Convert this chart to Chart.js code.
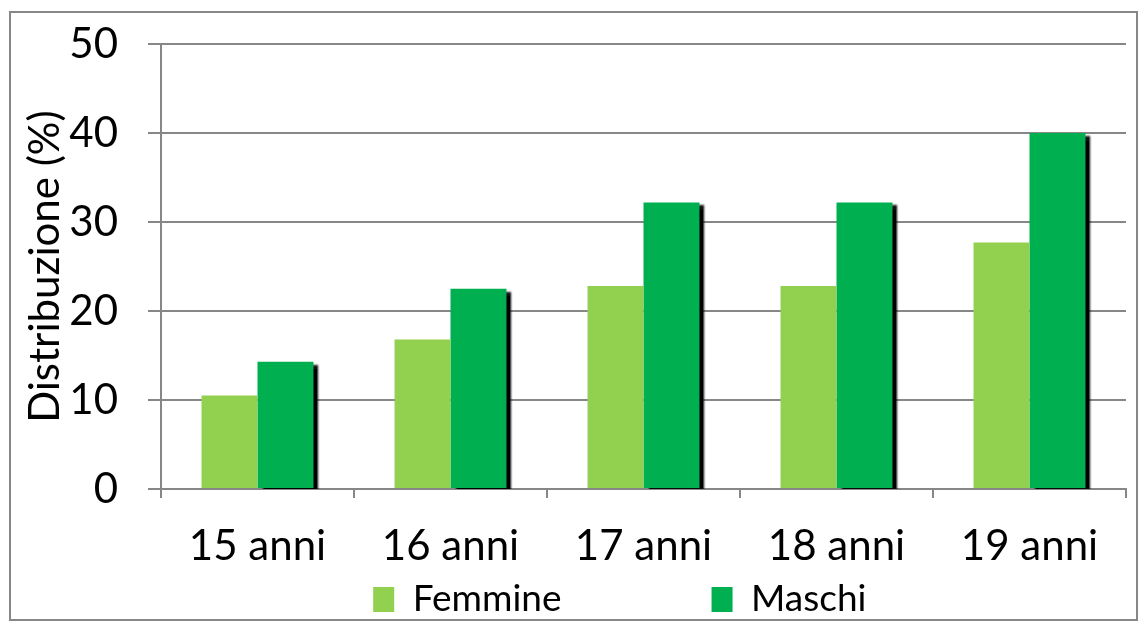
<!DOCTYPE html>
<html>
<head>
<meta charset="utf-8">
<script src="https://cdn.jsdelivr.net/npm/chart.js@4.4.0/dist/chart.umd.min.js"></script>
<style>
  html, body { margin: 0; padding: 0; background: #fff; }
  #wrap { width: 1146px; height: 628px; }
</style>
</head>
<body>
<div id="wrap"><canvas id="myChart" width="1146" height="628"></canvas></div>
<script>
const categories = ["15 anni", "16 anni", "17 anni", "18 anni", "19 anni"];
const femmine = [10.5, 16.8, 22.8, 22.8, 27.7];
const maschi = [14.3, 22.5, 32.2, 32.2, 40.0];
const yTicks = [0, 10, 20, 30, 40, 50];

const FONT = "Lato, 'Open Sans', sans-serif";
const GREY = "#878787";

// outer grey frame around the whole chart
const framePlugin = {
  id: "frame",
  afterDraw(chart) {
    const ctx = chart.ctx;
    ctx.save();
    ctx.strokeStyle = GREY;
    ctx.lineWidth = 2;
    ctx.strokeRect(10, 12, chart.width - 19, chart.height - 20);
    ctx.restore();
  }
};

// black drop shadow on the Maschi bars only
const shadowPlugin = {
  id: "barShadow",
  beforeDatasetDraw(chart, args) {
    if (args.index !== 1) return;
    const ctx = chart.ctx;
    ctx.save();
    ctx.shadowColor = "rgba(0,0,0,1)";
    ctx.shadowOffsetX = 5;
    ctx.shadowOffsetY = 3;
    ctx.shadowBlur = 2;
  },
  afterDatasetDraw(chart, args) {
    if (args.index !== 1) return;
    chart.ctx.restore();
  }
};

const data = {
  labels: categories,
  datasets: [
    {
      label: "Femmine",
      backgroundColor: "#92D050",
      data: femmine,
      barPercentage: 1,
      categoryPercentage: 0.58
    },
    {
      label: "Maschi",
      backgroundColor: "#00B050",
      data: maschi,
      barPercentage: 1,
      categoryPercentage: 0.58
    }
  ]
};

const config = {
  type: "bar",
  data: data,
  plugins: [shadowPlugin, framePlugin],
  options: {
    responsive: false,
    animation: false,
    layout: { padding: { left: 20, right: 20, top: 2, bottom: 0 } },
    plugins: {
      tooltip: { enabled: false },
      legend: {
        position: "bottom",
        fullSize: false,
        labels: {
          color: "#000",
          font: { family: FONT, size: 37 },
          boxWidth: 21,
          boxHeight: 25,
          padding: 8,
          // extra spacing between the two items, as in the original layout
          generateLabels(chart) {
            return chart.data.datasets.map((ds, i) => ({
              text: ds.label + "\u00a0".repeat(i === 0 ? 15 : 5),
              fillStyle: ds.backgroundColor,
              strokeStyle: ds.backgroundColor,
              lineWidth: 0,
              datasetIndex: i
            }));
          }
        }
      }
    },
    scales: {
      x: {
        grid: {
          offset: true,
          drawOnChartArea: false,
          drawTicks: true,
          tickLength: 9,
          color: GREY,
          lineWidth: 2
        },
        border: { color: GREY, width: 2 },
        ticks: { color: "#000", font: { family: FONT, size: 42 }, padding: 23 },
        afterFit(axis) { axis.height = 84; }
      },
      y: {
        min: 0,
        max: 50,
        afterBuildTicks(axis) {
          axis.ticks = yTicks.map(v => ({ value: v }));
        },
        afterFit(axis) {
          axis.width = 141;
          axis.paddingTop = 44;
        },
        grid: { color: GREY, lineWidth: 2, tickLength: 13 },
        border: { color: GREY, width: 2 },
        ticks: { color: "#000", font: { family: FONT, size: 42 }, padding: 30 },
        title: {
          display: true,
          text: "Distribuzione (%)",
          color: "#000",
          font: { family: FONT, size: 42 },
          padding: { top: 0, bottom: 0 }
        }
      }
    }
  }
};

new Chart(document.getElementById("myChart"), config);
</script>
</body>
</html>
